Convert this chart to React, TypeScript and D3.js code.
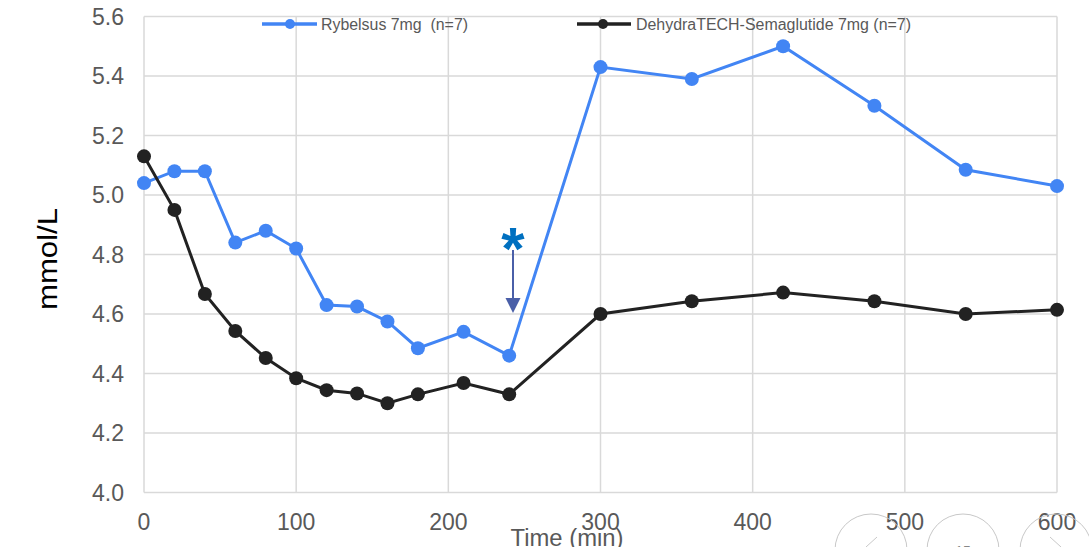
import React from "react";
import * as d3 from "d3";

const times = [0, 20, 40, 60, 80, 100, 120, 140, 160, 180, 210, 240, 300, 360, 420, 480, 540, 600];
const rybelsus = [5.04, 5.08, 5.08, 4.84, 4.88, 4.82, 4.63, 4.625, 4.575, 4.485, 4.54, 4.46, 5.43, 5.39, 5.5, 5.3, 5.085, 5.03];
const dehydra = [5.13, 4.95, 4.667, 4.543, 4.452, 4.384, 4.344, 4.333, 4.3, 4.33, 4.368, 4.33, 4.6, 4.643, 4.672, 4.643, 4.6, 4.614];
const xTicks = [0, 100, 200, 300, 400, 500, 600];
const yTicks = [4.0, 4.2, 4.4, 4.6, 4.8, 5.0, 5.2, 5.4, 5.6];
const seriesNames = ["Rybelsus 7mg  (n=7)", "DehydraTECH-Semaglutide 7mg (n=7)"];

const W = 1089, H = 547;
const BLUE = "#4285f4";
const BLACK = "#222222";
const GRID = "#d9d9d9";
const TXT = "#595959";

export default function App() {
  const x = d3.scaleLinear().domain([0, 600]).range([144, 1057]);
  const y = d3.scaleLinear().domain([4.0, 5.6]).range([492.5, 16.5]);
  const line = d3.line<number>().x((_, i) => x(times[i])).y((d) => y(d));
  const font = "Liberation Sans, Arial, sans-serif";
  const series = [
    { data: rybelsus, color: BLUE },
    { data: dehydra, color: BLACK },
  ];
  const arrowX = x(242.5);
  return (
    <svg width={W} height={H} style={{ position: "absolute", left: 0, top: 0 }} fontFamily={font}>
      <rect width={W} height={H} fill="#fff" />
      {yTicks.map((t) => (
        <line key={"gy" + t} x1={x(0)} x2={x(600)} y1={y(t)} y2={y(t)} stroke={GRID} strokeWidth={1.5} />
      ))}
      {xTicks.map((t) => (
        <line key={"gx" + t} x1={x(t)} x2={x(t)} y1={y(4.0)} y2={y(5.6)} stroke={GRID} strokeWidth={1.5} />
      ))}
      {yTicks.map((t) => (
        <text key={"ty" + t} x={124} y={y(t)} dy="0.35em" textAnchor="end" fontSize={23} fill={TXT}>
          {t.toFixed(1)}
        </text>
      ))}
      {xTicks.map((t) => (
        <text key={"tx" + t} x={x(t)} y={530} textAnchor="middle" fontSize={23} fill={TXT}>
          {t}
        </text>
      ))}
      <text x={567} y={546} textAnchor="middle" fontSize={23} fill={TXT} textLength={113} lengthAdjust="spacingAndGlyphs">Time (min)</text>
      <text transform={`translate(57,259) rotate(-90)`} textAnchor="middle" fontSize={27} fill="#000" textLength={102} lengthAdjust="spacingAndGlyphs">mmol/L</text>

      {series.map((s, si) => (
        <g key={"s" + si}>
          <path d={line(s.data) || ""} fill="none" stroke={s.color} strokeWidth={3} />
          {s.data.map((v, i) => (
            <circle key={i} cx={x(times[i])} cy={y(v)} r={7} fill={s.color} />
          ))}
        </g>
      ))}

      {/* legend */}
      <g>
        <line x1={262} x2={317} y1={24} y2={24} stroke={BLUE} strokeWidth={3.5} />
        <circle cx={290} cy={24} r={5} fill={BLUE} />
        <text x={321} y={24} dy="0.36em" fontSize={16} fill={TXT} xmlSpace="preserve" textLength={147} lengthAdjust="spacingAndGlyphs">{seriesNames[0]}</text>
        <line x1={577} x2={631} y1={24} y2={24} stroke={BLACK} strokeWidth={3.5} />
        <circle cx={603} cy={24} r={5} fill={BLACK} />
        <text x={636} y={24} dy="0.36em" fontSize={16} fill={TXT} textLength={275} lengthAdjust="spacingAndGlyphs">{seriesNames[1]}</text>
      </g>

      {/* annotation */}
      <text x={arrowX} y={269} textAnchor="middle" fontSize={60} fontWeight="bold" fill="#0070c0">*</text>
      <line x1={arrowX} x2={arrowX} y1={250} y2={300} stroke="#4a5fa8" strokeWidth={2} />
      <path d={`M${arrowX - 7.5},298 L${arrowX + 7.5},298 L${arrowX},313 Z`} fill="#4a5fa8" />

      {/* slideshow overlay */}
      <g fill="none" stroke="#c8c8c8" strokeWidth={1}>
        <circle cx={871} cy={550} r={36} />
        <circle cx={963} cy={550} r={36} />
        <circle cx={1056} cy={550} r={36} />
        <path d="M877,537 L866,547" />
        <path d="M1050,537 L1061,547" />
      </g>
      <text x={963} y={556} textAnchor="middle" fontSize={14} fill="#888">15</text>
    </svg>
  );
}
